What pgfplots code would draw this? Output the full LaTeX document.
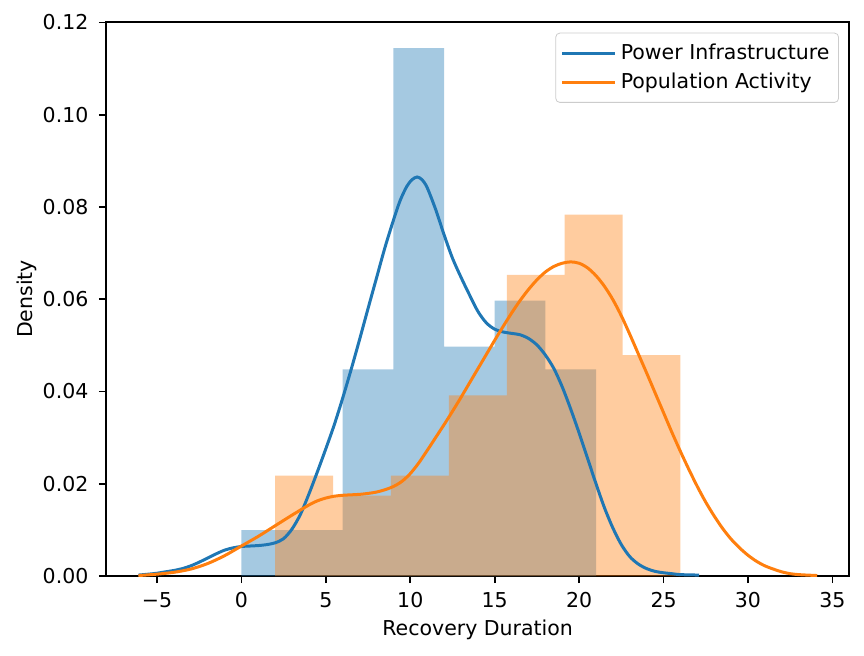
\documentclass[border=0pt]{standalone}
\usepackage{fontspec}
\setmainfont{DejaVu Sans}
\usepackage{pgfplots}
\pgfplotsset{compat=1.18}
\definecolor{mblue}{HTML}{1F77B4}
\definecolor{morange}{HTML}{FF7F0E}
\begin{document}
\fontsize{10.25}{12.3}\selectfont
\begin{tikzpicture}
\useasboundingbox (-53pt,-39.5pt) rectangle (379pt,288pt);
\begin{axis}[
  at={(0,0)}, anchor=south west,
  width=371.65pt, height=277pt, scale only axis,
  xmin=-8.02, xmax=36.0, ymin=0, ymax=0.1201,
  axis line style={line width=0.8pt},
  tick align=outside, major tick length=3.5pt,
  xtick pos=lower, ytick pos=left,
  every tick/.style={black, line width=0.8pt},
  xtick={-5,0,5,10,15,20,25,30,35},
  xticklabels={−5,0,5,10,15,20,25,30,35},
  ytick={0,0.02,0.04,0.06,0.08,0.10,0.12},
  yticklabels={0.00,0.02,0.04,0.06,0.08,0.10,0.12},
  tick label style={font=\fontsize{10.25}{12.3}\selectfont},
  xticklabel style={yshift=-1.2pt},
  yticklabel style={xshift=-1.7pt},
  xlabel={Recovery Duration}, ylabel={Density},
  label style={font=\fontsize{10.25}{12.3}\selectfont},
  xlabel style={at={(axis description cs:0.50,-0.0975)}, anchor=center},
  ylabel style={at={(axis description cs:-0.1063,0.5)}, anchor=center},
  legend style={at={(axis description cs:0.9861,0.9807)}, anchor=north east,
    draw=black!20, rounded corners=2pt, fill=white, inner xsep=2.5pt, inner ysep=3.5pt,
    row sep=1pt, font=\fontsize{10.25}{12.3}\selectfont},
  legend cell align=left,
  legend image code/.code={\path (0pt,0pt) -- (26.5pt,0pt);\draw[#1,line width=1.5pt] (0pt,0pt) -- (22pt,0pt);},
]
% histograms
\addplot[ybar interval, fill=mblue, fill opacity=0.4, draw=none, forget plot] coordinates {
(0,0.00995)(3,0.00995)(6,0.04478)(9,0.11443)(12,0.04975)(15,0.05970)(18,0.04478)(21,0.04478)};
\addplot[ybar interval, fill=morange, fill opacity=0.4, draw=none, forget plot] coordinates {
(2,0.02177)(5.4286,0.01741)(8.8571,0.02177)(12.2857,0.03918)(15.7143,0.06530)(19.1429,0.07836)(22.5714,0.04788)(26,0.04788)};
% KDE curves
\addplot[mblue, line width=1.5pt, smooth] coordinates {
(-6.1,0.0002)(-5.5,0.0004)(-5.0,0.0006)(-4.5,0.0009)(-4.0,0.0012)(-3.5,0.0016)(-3.0,0.0022)(-2.5,0.0030)(-2.0,0.0039)(-1.5,0.0048)(-1.0,0.0056)(-0.5,0.0061)(0,0.0064)(0.5,0.0065)(1.0,0.0066)(1.5,0.0068)(2.0,0.0072)(2.5,0.0081)(3.0,0.0102)(3.5,0.0134)(4.0,0.0178)(4.5,0.0226)(5.0,0.0276)(5.5,0.0328)(6.0,0.0386)(6.5,0.0448)(7.0,0.0513)(7.5,0.0580)(8.0,0.0646)(8.5,0.0712)(9.0,0.0771)(9.4,0.0814)(9.8,0.0845)(10.1,0.0859)(10.4,0.0865)(10.7,0.0859)(11.0,0.0842)(11.5,0.0795)(12.0,0.0740)(12.5,0.0689)(13.0,0.0648)(13.5,0.0610)(14.0,0.0574)(14.5,0.0549)(15.0,0.0535)(15.5,0.0529)(16.0,0.0526)(16.5,0.0523)(17.0,0.0515)(17.5,0.0501)(18.0,0.0479)(18.5,0.0450)(19.0,0.0410)(19.5,0.0362)(20.0,0.0310)(20.5,0.0255)(21.0,0.0200)(21.5,0.0148)(22.0,0.0104)(22.5,0.0068)(23.0,0.0042)(23.5,0.0026)(24.0,0.0016)(24.5,0.0010)(25.0,0.0007)(25.5,0.0005)(26.0,0.0003)(27.1,0.0002)};
\addlegendentry{Power Infrastructure}
\addplot[morange, line width=1.5pt, smooth] coordinates {
(-6.1,0.0001)(-5.0,0.0004)(-4.0,0.0008)(-3.0,0.0015)(-2.0,0.0027)(-1.0,0.0044)(0,0.0065)(1.0,0.0086)(2.0,0.0109)(3.0,0.0132)(4.0,0.0154)(4.5,0.0163)(5.0,0.0169)(5.5,0.0173)(6.0,0.0175)(6.5,0.0176)(7.0,0.0177)(7.5,0.0179)(8.0,0.0182)(8.5,0.0187)(9.0,0.0194)(9.5,0.0205)(10.0,0.0222)(10.5,0.0245)(11.0,0.0272)(11.5,0.0300)(12.0,0.0328)(12.5,0.0357)(13.0,0.0387)(13.5,0.0418)(14.0,0.0449)(14.5,0.0480)(15.0,0.0511)(15.5,0.0541)(16.0,0.0570)(16.5,0.0597)(17.0,0.0621)(17.5,0.0642)(18.0,0.0659)(18.5,0.0671)(19.0,0.0678)(19.5,0.0681)(20.0,0.0678)(20.5,0.0668)(21.0,0.0651)(21.5,0.0628)(22.0,0.0599)(22.5,0.0564)(23.0,0.0524)(23.5,0.0482)(24.0,0.0440)(24.5,0.0397)(25.0,0.0354)(25.5,0.0311)(26.0,0.0270)(26.5,0.0231)(27.0,0.0194)(27.5,0.0160)(28.0,0.0130)(28.5,0.0103)(29.0,0.0080)(29.5,0.0061)(30.0,0.0045)(30.5,0.0032)(31.0,0.0022)(31.5,0.0015)(32.0,0.0009)(32.5,0.0005)(33.0,0.0003)(33.5,0.0002)(34.1,0.0001)};
\addlegendentry{Population Activity}
\end{axis}
\end{tikzpicture}
\end{document}
